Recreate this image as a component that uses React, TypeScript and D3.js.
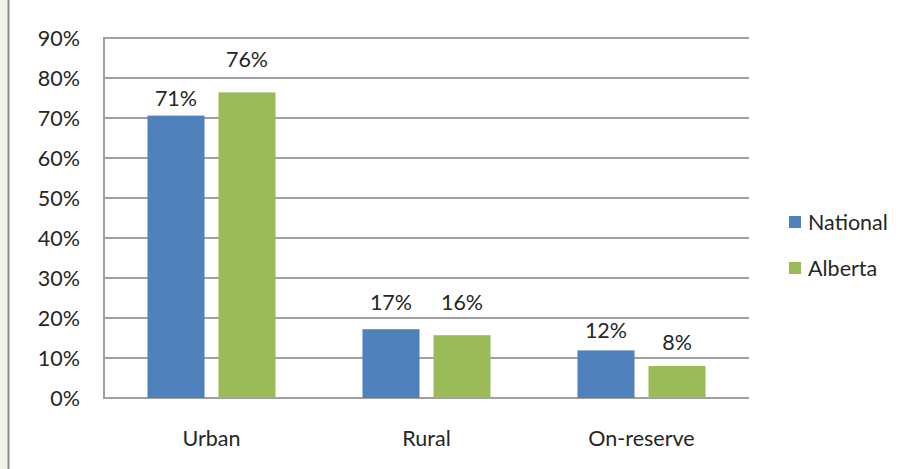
import React, { useEffect, useRef } from "react";
import * as d3 from "d3";

// categories and series
const categories = ["Urban", "Rural", "On-reserve"];
const seriesNames = ["National", "Alberta"];
const nationalValues = [0.706, 0.172, 0.119];
const albertaValues = [0.764, 0.157, 0.08];
const yTicks = [0, 0.1, 0.2, 0.3, 0.4, 0.5, 0.6, 0.7, 0.8, 0.9];
const colors = ["#4f81bd", "#9bbb59"];

// how far each value label sits above its bar (px), as in the original
const labelLift = [
  [18, 33],
  [27, 33],
  [20, 24],
];

const App = () => {
  const svgRef = useRef<SVGSVGElement | null>(null);

  useEffect(() => {
    document.body.style.margin = "0";
    const width = 906;
    const height = 469;
    const font = "Lato, 'Open Sans', sans-serif";
    const fontSize = 21.5;
    const textColor = "#262626";

    const svg = d3.select(svgRef.current)
      .attr("width", width)
      .attr("height", height);

    svg.selectAll("*").remove();

    svg.append("rect")
      .attr("width", width).attr("height", height)
      .attr("fill", "#ffffff");

    // left window edge
    svg.append("rect")
      .attr("x", 0).attr("y", 0).attr("width", 8).attr("height", height)
      .attr("fill", "#f2f1ea");
    svg.append("line")
      .attr("x1", 8.5).attr("x2", 8.5).attr("y1", 0).attr("y2", height)
      .attr("stroke", "#8c8c8c").attr("stroke-width", 2);

    const plot = { left: 104, right: 749, top: 38, bottom: 398 };

    const y = d3.scaleLinear()
      .domain([0, 0.9])
      .range([plot.bottom, plot.top]);

    const x0 = d3.scaleBand()
      .domain(categories)
      .range([plot.left, plot.right]);

    const x1 = d3.scaleBand()
      .domain(seriesNames)
      .range([0, x0.bandwidth()])
      .paddingInner(0.197)
      .paddingOuter(0.612);

    // gridlines
    svg.append("g")
      .selectAll("line")
      .data(yTicks)
      .join("line")
      .attr("x1", plot.left)
      .attr("x2", plot.right)
      .attr("y1", d => Math.round(y(d)))
      .attr("y2", d => Math.round(y(d)))
      .attr("stroke", "#a0a0a0")
      .attr("stroke-width", 2);

    // left axis line
    svg.append("line")
      .attr("x1", plot.left).attr("x2", plot.left)
      .attr("y1", plot.top - 1).attr("y2", plot.bottom + 1)
      .attr("stroke", "#a0a0a0")
      .attr("stroke-width", 2);

    // y tick labels
    svg.append("g")
      .selectAll("text")
      .data(yTicks)
      .join("text")
      .attr("x", 80)
      .attr("y", d => y(d) + 8)
      .attr("text-anchor", "end")
      .attr("font-family", font)
      .attr("font-size", fontSize)
      .attr("fill", textColor)
      .text(d => d3.format(".0%")(d));

    const seriesValues = [nationalValues, albertaValues];

    // bars
    seriesValues.forEach((vals, si) => {
      svg.append("g")
        .selectAll("rect")
        .data(vals)
        .join("rect")
        .attr("x", (d, i) => x0(categories[i])! + x1(seriesNames[si])!)
        .attr("y", d => y(d))
        .attr("width", x1.bandwidth())
        .attr("height", d => plot.bottom - y(d))
        .attr("fill", colors[si]);

      svg.append("g")
        .selectAll("text")
        .data(vals)
        .join("text")
        .attr("x", (d, i) => x0(categories[i])! + x1(seriesNames[si])! + x1.bandwidth() / 2)
        .attr("y", (d, i) => y(d) - labelLift[i][si] + 8)
        .attr("text-anchor", "middle")
        .attr("font-family", font)
        .attr("font-size", fontSize)
        .attr("fill", textColor)
        .text(d => d3.format(".0%")(d));
    });

    // category labels
    svg.append("g")
      .selectAll("text")
      .data(categories)
      .join("text")
      .attr("x", d => x0(d)! + x0.bandwidth() / 2)
      .attr("y", 446)
      .attr("text-anchor", "middle")
      .attr("font-family", font)
      .attr("font-size", fontSize)
      .attr("fill", textColor)
      .text(d => d);

    // legend
    const legend = svg.append("g");
    seriesNames.forEach((name, i) => {
      const ly = 222 + i * 46;
      legend.append("rect")
        .attr("x", 789).attr("y", ly - 6)
        .attr("width", 12).attr("height", 12)
        .attr("fill", colors[i]);
      legend.append("text")
        .attr("x", 808).attr("y", ly + 8)
        .attr("font-family", font)
        .attr("font-size", fontSize)
        .attr("fill", textColor)
        .text(name);
    });
  }, []);

  return <svg ref={svgRef} style={{ display: "block" }} />;
};

export default App;
